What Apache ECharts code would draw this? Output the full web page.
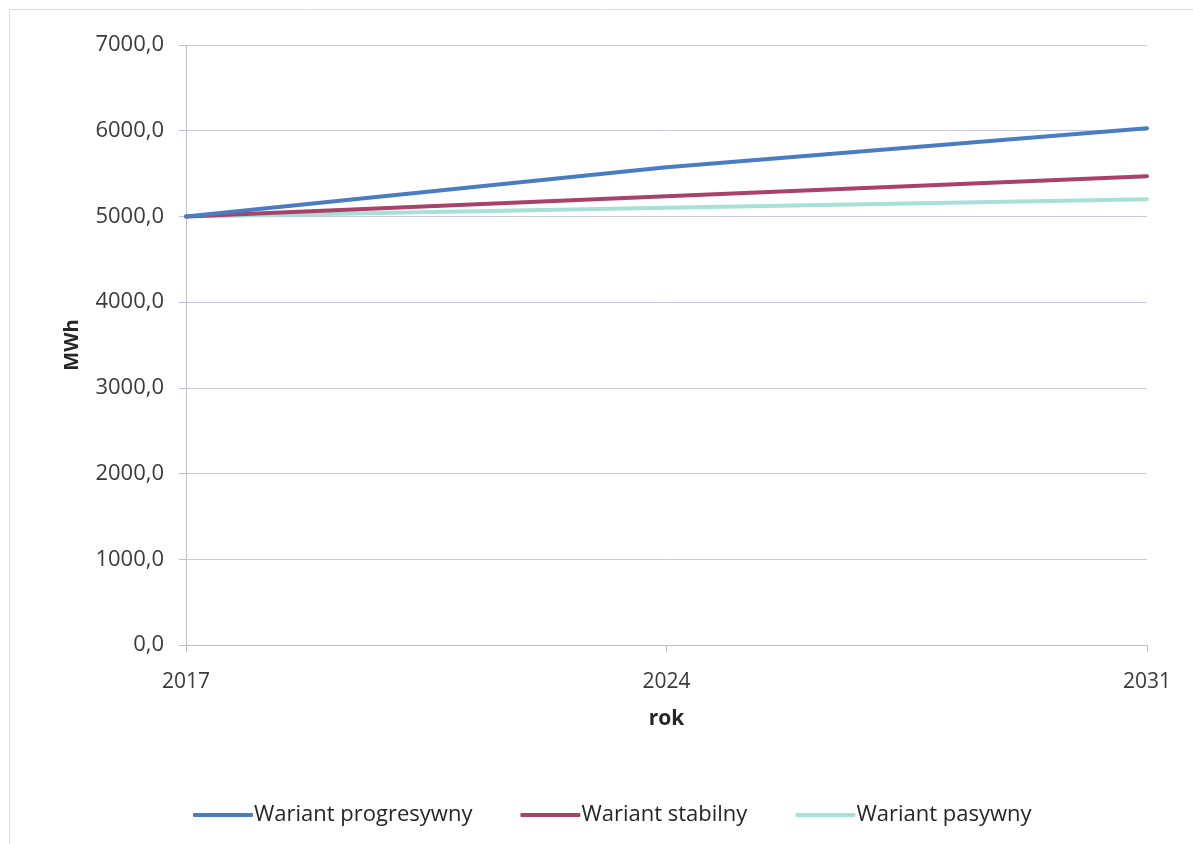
<!DOCTYPE html>
<html>
<head>
<meta charset="utf-8">
<script src="https://cdn.jsdelivr.net/npm/echarts@6/dist/echarts.min.js"></script>
<style>
  html, body { margin: 0; padding: 0; background: #ffffff; }
  #chart { width: 1193px; height: 844px; }
</style>
</head>
<body>
<div id="chart"></div>
<script>
// Years on the horizontal axis
const years = ['2017', '2024', '2031'];

// Energy demand scenarios, MWh
const progresywny = [5000, 5575, 6030];
const stabilny = [5000, 5235, 5470];
const pasywny = [5000, 5100, 5200];

const seriesNames = ['Wariant progresywny', 'Wariant stabilny', 'Wariant pasywny'];
const seriesColors = ['#4a7cc4', '#a8426a', '#a6e0d6'];

const font = '"Open Sans", "Noto Sans", sans-serif';
const chart = echarts.init(document.getElementById('chart'));

const fmt = v => v.toFixed(1).replace('.', ',');

chart.setOption({
  animation: false,
  backgroundColor: '#ffffff',
  graphic: [{
    type: 'rect',
    shape: { x: 9.5, y: 9.5, width: 1200, height: 900 },
    style: { fill: 'none', stroke: '#dcdcdc', lineWidth: 1 },
    silent: true
  }],
  grid: { left: 186, right: 46, top: 45, bottom: 199, containLabel: false },
  legend: {
    bottom: 13,
    left: 188,
    itemWidth: 60,
    itemHeight: 4,
    itemGap: 48,
    icon: 'roundRect',
    textStyle: { fontFamily: font, fontSize: 22, color: '#262626', padding: [0, 0, 0, -4] },
    data: seriesNames
  },
  xAxis: {
    type: 'category',
    data: years,
    boundaryGap: false,
    name: 'rok',
    nameLocation: 'middle',
    nameGap: 64,
    nameTextStyle: { fontFamily: font, fontSize: 21, fontWeight: 'bold', color: '#262626' },
    axisLine: { lineStyle: { color: '#bdbdd2', width: 1 } },
    axisTick: { show: true, length: 7, lineStyle: { color: '#bdbdd2' } },
    axisLabel: { fontFamily: font, fontSize: 21, color: '#3a3a3a', margin: 27 },
    splitLine: { show: false }
  },
  yAxis: {
    type: 'value',
    min: 0,
    max: 7000,
    interval: 1000,
    name: 'MWh',
    nameLocation: 'middle',
    nameGap: 104,
    nameRotate: 90,
    nameTextStyle: { fontFamily: font, fontSize: 20, fontWeight: 'bold', color: '#262626' },
    axisLine: { show: true, lineStyle: { color: '#bdbdd2', width: 1 } },
    axisTick: { show: true, length: 7, lineStyle: { color: '#bdbdd2' } },
    axisLabel: { fontFamily: font, fontSize: 22, color: '#3a3a3a', margin: 22, formatter: fmt },
    splitLine: { lineStyle: { color: '#c8c8de', width: 1 } }
  },
  series: [
    { name: seriesNames[0], type: 'line', data: progresywny },
    { name: seriesNames[1], type: 'line', data: stabilny },
    { name: seriesNames[2], type: 'line', data: pasywny }
  ].map((s, i) => Object.assign(s, {
    color: seriesColors[i],
    showSymbol: false,
    symbol: 'none',
    lineStyle: { width: 4, color: seriesColors[i], cap: 'round' },
    z: 3 - i
  }))
});
</script>
</body>
</html>
